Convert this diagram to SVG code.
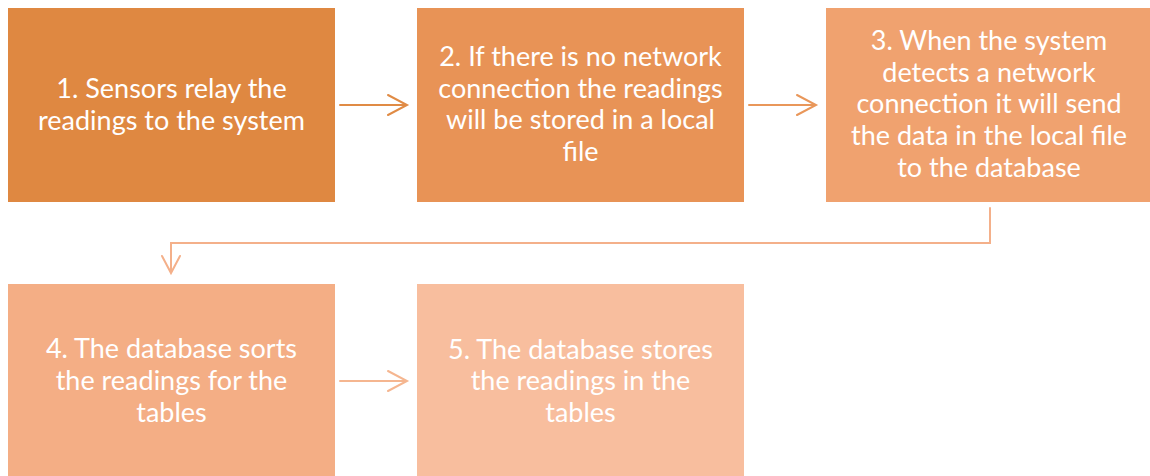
<svg xmlns="http://www.w3.org/2000/svg" width="1150" height="476" viewBox="0 0 1150 476">
<style>
.lbl{font-family:Lato,"Liberation Sans",sans-serif;font-size:27px;fill:#ffffff;text-anchor:middle}
.conn{fill:none;stroke-width:2;stroke-linecap:round;stroke-linejoin:miter}
</style>
<rect width="1150" height="476" fill="#ffffff"/>
<g id="node1">
<rect x="8" y="8" width="327" height="194" fill="#DF8841"/>
<text class="lbl"><tspan x="171.5" y="98">1. Sensors relay the</tspan><tspan x="171.5" y="130">readings to the system</tspan></text>
</g>
<g id="node2">
<rect x="417" y="8" width="327" height="194" fill="#E89356"/>
<text class="lbl"><tspan x="580.5" y="66">2. If there is no network</tspan><tspan x="580.5" y="98">connection the readings</tspan><tspan x="580.5" y="129">will be stored in a local</tspan><tspan x="580.5" y="161">file</tspan></text>
</g>
<g id="node3">
<rect x="826" y="8" width="327" height="194" fill="#F0A26F"/>
<text class="lbl"><tspan x="989" y="50">3. When the system</tspan><tspan x="989" y="82">detects a network</tspan><tspan x="989" y="113">connection it will send</tspan><tspan x="989" y="145">the data in the local file</tspan><tspan x="989" y="177">to the database</tspan></text>
</g>
<g id="node4">
<rect x="8" y="284" width="327" height="194" fill="#F4AE85"/>
<text class="lbl"><tspan x="171.5" y="358">4. The database sorts</tspan><tspan x="171.5" y="390">the readings for the</tspan><tspan x="171.5" y="422">tables</tspan></text>
</g>
<g id="node5">
<rect x="417" y="284" width="327" height="194" fill="#F8BE9E"/>
<text class="lbl"><tspan x="580.5" y="359">5. The database stores</tspan><tspan x="580.5" y="390">the readings in the</tspan><tspan x="580.5" y="422">tables</tspan></text>
</g>
<g id="connectors">
<g stroke="#E08B45" class="conn"><path d="M340 105H406"/><path d="M388 95L407 105L388 115"/></g>
<g stroke="#E9975A" class="conn"><path d="M749 105H815"/><path d="M797 95L816 105L797 115"/></g>
<g stroke="#F4B08A" class="conn"><path d="M990 208V243H171V272"/><path d="M162 256L171 273L180 256"/></g>
<g stroke="#F5B690" class="conn"><path d="M340 381H406"/><path d="M388 371L407 381L388 391"/></g>
</g>
</svg>
